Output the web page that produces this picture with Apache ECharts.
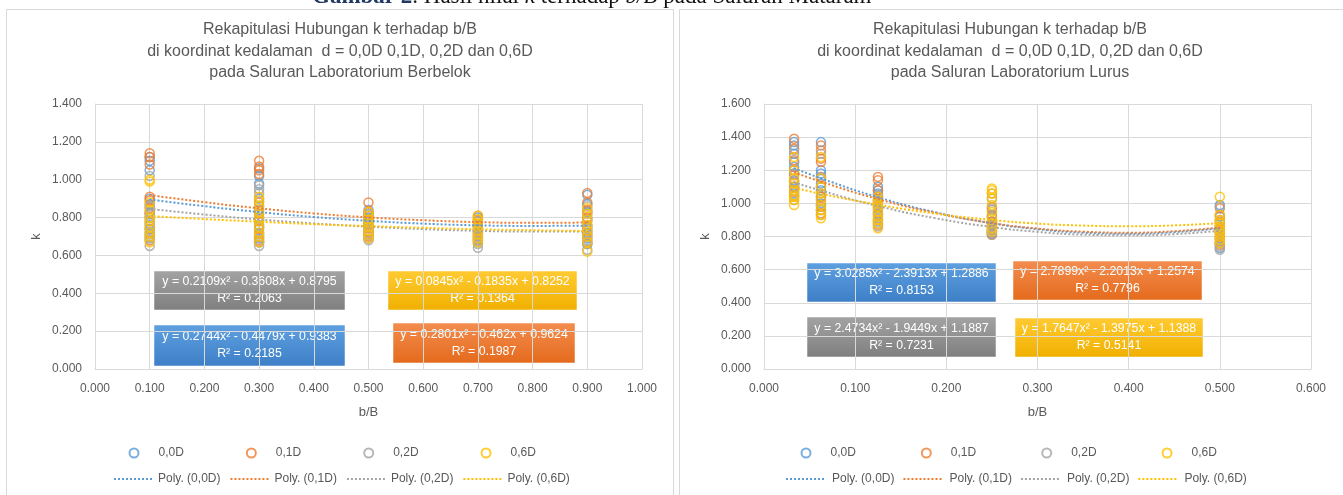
<!DOCTYPE html>
<html>
<head>
<meta charset="utf-8">
<script src="https://cdn.jsdelivr.net/npm/echarts@6/dist/echarts.min.js"></script>
<style>
html,body{margin:0;padding:0;background:#fff;}
#chart{width:1343px;height:495px;}
</style>
</head>
<body>
<div id="chart"></div>
<script>
// ---- Saluran Laboratorium Berbelok (kiri) ----
const bbX = [0.1, 0.3, 0.5, 0.7, 0.9];
const bbK00 = [
  [1.12, 1.10, 1.05, 0.90, 0.87, 0.83, 0.80, 0.76, 0.72, 0.70],
  [1.06, 1.02, 0.98, 0.90, 0.84, 0.80, 0.76, 0.72, 0.69, 0.67],
  [0.84, 0.82, 0.80, 0.78, 0.77, 0.75, 0.73, 0.71],
  [0.80, 0.78, 0.76, 0.75, 0.73, 0.71, 0.69, 0.67],
  [0.92, 0.87, 0.83, 0.79, 0.75, 0.72, 0.69, 0.66]
];
const bbK01 = [
  [1.14, 1.12, 1.08, 0.91, 0.89, 0.85, 0.82, 0.78, 0.74, 0.68],
  [1.10, 1.07, 1.05, 1.03, 0.88, 0.82, 0.78, 0.74, 0.70, 0.68],
  [0.88, 0.83, 0.81, 0.79, 0.77, 0.75, 0.72, 0.70],
  [0.81, 0.79, 0.78, 0.76, 0.74, 0.72, 0.70, 0.68],
  [0.93, 0.88, 0.84, 0.80, 0.76, 0.73, 0.70, 0.67]
];
const bbK02 = [
  [1.02, 0.86, 0.82, 0.80, 0.77, 0.74, 0.71, 0.69, 0.65],
  [0.97, 0.95, 0.93, 0.86, 0.79, 0.75, 0.71, 0.67, 0.65],
  [0.82, 0.79, 0.77, 0.75, 0.73, 0.71, 0.69, 0.68],
  [0.78, 0.76, 0.74, 0.72, 0.70, 0.68, 0.66, 0.64],
  [0.86, 0.82, 0.78, 0.74, 0.71, 0.68, 0.66, 0.63]
];
const bbK06 = [
  [1.00, 0.99, 0.88, 0.84, 0.80, 0.78, 0.75, 0.72, 0.70, 0.67],
  [0.91, 0.89, 0.86, 0.83, 0.80, 0.78, 0.75, 0.72, 0.70, 0.67],
  [0.83, 0.81, 0.79, 0.77, 0.75, 0.73, 0.71, 0.69],
  [0.81, 0.79, 0.77, 0.75, 0.73, 0.71, 0.69, 0.67],
  [0.85, 0.82, 0.79, 0.76, 0.73, 0.70, 0.67, 0.62]
];
const bbTrendX = [0.1, 0.2, 0.3, 0.4, 0.5, 0.6, 0.7, 0.8, 0.9];
const bbTrend00 = [0.896, 0.860, 0.829, 0.803, 0.783, 0.768, 0.759, 0.756, 0.757];
const bbTrend01 = [0.919, 0.881, 0.849, 0.822, 0.801, 0.786, 0.776, 0.772, 0.774];
const bbTrend02 = [0.846, 0.816, 0.790, 0.769, 0.752, 0.739, 0.730, 0.726, 0.726];
const bbTrend06 = [0.808, 0.792, 0.778, 0.765, 0.755, 0.746, 0.738, 0.733, 0.729];
const bbEq = ['y = 0.2744x² - 0.4479x + 0.9383', 'y = 0.2801x² - 0.462x + 0.9624',
              'y = 0.2109x² - 0.3608x + 0.8795', 'y = 0.0845x² - 0.1835x + 0.8252'];
const bbR2 = ['R² = 0.2185', 'R² = 0.1987', 'R² = 0.2063', 'R² = 0.1364'];

// ---- Saluran Laboratorium Lurus (kanan) ----
const lrX = [0.033, 0.0625, 0.125, 0.25, 0.5];
const lrK00 = [
  [1.37, 1.35, 1.30, 1.25, 1.22, 1.18, 1.14, 1.10, 1.06],
  [1.37, 1.20, 1.18, 1.15, 1.12, 1.08, 1.04, 1.00, 0.96],
  [1.10, 1.08, 1.06, 1.04, 1.02, 1.00, 0.97, 0.93, 0.89],
  [1.03, 0.96, 0.92, 0.89, 0.87, 0.85, 0.83, 0.82],
  [0.99, 0.92, 0.88, 0.85, 0.82, 0.79, 0.76, 0.73]
];
const lrK01 = [
  [1.39, 1.33, 1.26, 1.20, 1.17, 1.13, 1.10, 1.07, 1.04],
  [1.35, 1.32, 1.27, 1.25, 1.16, 1.10, 1.04, 0.98, 0.94],
  [1.16, 1.14, 1.08, 1.04, 1.01, 0.98, 0.94, 0.90, 0.87],
  [1.06, 0.97, 0.93, 0.89, 0.86, 0.84, 0.82, 0.81],
  [0.97, 0.93, 0.89, 0.86, 0.83, 0.80, 0.77, 0.75]
];
const lrK02 = [
  [1.32, 1.25, 1.18, 1.13, 1.10, 1.08, 1.05, 1.02],
  [1.30, 1.16, 1.10, 1.06, 1.02, 0.99, 0.96, 0.93],
  [1.05, 1.02, 0.99, 0.96, 0.94, 0.91, 0.88, 0.86],
  [0.98, 0.92, 0.88, 0.86, 0.84, 0.83, 0.82, 0.81],
  [0.98, 0.90, 0.86, 0.82, 0.79, 0.76, 0.74, 0.72]
];
const lrK06 = [
  [1.28, 1.20, 1.15, 1.12, 1.08, 1.05, 1.04, 1.02, 0.99],
  [1.28, 1.15, 1.10, 1.06, 1.02, 0.99, 0.96, 0.93, 0.91],
  [1.04, 1.02, 1.00, 0.98, 0.95, 0.92, 0.90, 0.88, 0.85],
  [1.09, 1.08, 1.06, 1.03, 0.99, 0.95, 0.91, 0.88, 0.85, 0.83],
  [1.04, 0.93, 0.90, 0.88, 0.86, 0.84, 0.82, 0.80, 0.78, 0.76]
];
const lrTrendX = [0.033, 0.0625, 0.125, 0.1875, 0.25, 0.3, 0.35, 0.4, 0.45, 0.5];
const lrTrend00 = [1.213, 1.151, 1.037, 0.947, 0.880, 0.844, 0.823, 0.817, 0.826, 0.850];
const lrTrend01 = [1.188, 1.131, 1.026, 0.943, 0.881, 0.848, 0.829, 0.823, 0.832, 0.854];
const lrTrend02 = [1.127, 1.077, 0.984, 0.911, 0.857, 0.828, 0.811, 0.807, 0.814, 0.835];
const lrTrend06 = [1.095, 1.058, 0.992, 0.939, 0.900, 0.878, 0.866, 0.862, 0.867, 0.881];
const lrEq = ['y = 3.0285x² - 2.3913x + 1.2886', 'y = 2.7899x² - 2.2013x + 1.2574',
              'y = 2.4734x² - 1.9449x + 1.1887', 'y = 1.7647x² - 1.3975x + 1.1388'];
const lrR2 = ['R² = 0.8153', 'R² = 0.7796', 'R² = 0.7231', 'R² = 0.5141'];

const names = ['0,0D', '0,1D', '0,2D', '0,6D'];
const polyNames = ['Poly. (0,0D)', 'Poly. (0,1D)', 'Poly. (0,2D)', 'Poly. (0,6D)'];
const colors = ['#5b9bd5', '#ed7d31', '#a5a5a5', '#ffc000'];
const boxFill = [['#5fa0e0', '#3d7fc7'], ['#f38d4f', '#e46a1c'], ['#a3a3a3', '#7f7f7f'], ['#ffcb33', '#f0b000']];
const FONT = 'Liberation Sans';
const TXT = '#595959';

var myChart = echarts.init(document.getElementById('chart'));

function pts(xs, cols) {
  const out = [];
  xs.forEach((x, i) => cols[i].forEach(v => out.push([x, v])));
  return out;
}
function pairs(xs, ys) {
  return xs.map((x, i) => [x, ys[i]]);
}

function makeSeries(gi, xs, ks, tx, trends) {
  const s = [];
  ks.forEach((k, i) => {
    s.push({
      name: names[i], type: 'scatter', xAxisIndex: gi, yAxisIndex: gi,
      symbol: 'circle', symbolSize: 9, z: 2,
      itemStyle: { color: 'rgba(255,255,255,0)', borderColor: colors[i], borderWidth: 1.5 },
      data: pts(xs, k)
    });
  });
  trends.forEach((t, i) => {
    s.push({
      name: polyNames[i], type: 'line', xAxisIndex: gi, yAxisIndex: gi,
      smooth: true, symbol: 'none', z: 3,
      lineStyle: { color: colors[i], width: 2, type: [2, 2] },
      itemStyle: { color: colors[i] },
      data: pairs(tx, t)
    });
  });
  return s;
}

function xAxis(gi, max) {
  return {
    type: 'value', gridIndex: gi, min: 0, max: max, interval: 0.1,
    name: 'b/B', nameLocation: 'middle', nameGap: 37,
    nameTextStyle: { color: TXT, fontSize: 13, fontFamily: FONT },
    axisLine: { show: true, lineStyle: { color: '#d9d9d9' } },
    axisTick: { show: false },
    axisLabel: { color: TXT, fontSize: 12, fontFamily: FONT, margin: 14, formatter: v => v.toFixed(3) },
    splitLine: { show: true, lineStyle: { color: '#d9d9d9' } }
  };
}
function yAxis(gi, max) {
  return {
    type: 'value', gridIndex: gi, min: 0, max: max, interval: 0.2,
    name: 'k', nameLocation: 'middle', nameRotate: 90, nameGap: 52,
    nameTextStyle: { color: TXT, fontSize: 13, fontFamily: FONT },
    axisLine: { show: true, lineStyle: { color: '#d9d9d9' } },
    axisTick: { show: false },
    axisLabel: { color: TXT, fontSize: 12, fontFamily: FONT, margin: 13, formatter: v => v.toFixed(3) },
    splitLine: { show: true, lineStyle: { color: '#d9d9d9' } }
  };
}

function eqBox(x, y, w, h, idx, eq, r2) {
  return {
    type: 'group', x: x, y: y, z: 50,
    children: [
      { type: 'rect', shape: { x: 0, y: 0, width: w, height: h },
        style: { fill: new echarts.graphic.LinearGradient(0, 0, 0, 1, [
          { offset: 0, color: boxFill[idx][0] }, { offset: 1, color: boxFill[idx][1] }]),
          stroke: 'rgba(255,255,255,0.5)', lineWidth: 1 } },
      { type: 'text', x: w / 2, y: h / 2,
        style: { text: eq + '\n' + r2, fill: '#fff', font: '12.3px "' + FONT + '"',
          align: 'center', verticalAlign: 'middle', lineHeight: 17 } }
    ]
  };
}

const legendText = { color: TXT, fontSize: 12, fontFamily: FONT };
const hideSym = { color: 'rgba(0,0,0,0)', borderColor: 'rgba(0,0,0,0)', borderWidth: 0 };

var option = {
  animation: false,
  title: [
    { text: 'Rekapitulasi Hubungan k terhadap b/B\ndi koordinat kedalaman  d = 0,0D 0,1D, 0,2D dan 0,6D\npada Saluran Laboratorium Berbelok',
      left: 340, top: 19, textAlign: 'center', padding: 0,
      textStyle: { color: TXT, fontSize: 16, fontWeight: 'normal', fontFamily: FONT, lineHeight: 21.5 } },
    { text: 'Rekapitulasi Hubungan k terhadap b/B\ndi koordinat kedalaman  d = 0,0D 0,1D, 0,2D dan 0,6D\npada Saluran Laboratorium Lurus',
      left: 1010, top: 19, textAlign: 'center', padding: 0,
      textStyle: { color: TXT, fontSize: 16, fontWeight: 'normal', fontFamily: FONT, lineHeight: 21.5 } }
  ],
  grid: [
    { left: 95, top: 104, width: 547, height: 265 },
    { left: 764, top: 104, width: 547, height: 265 }
  ],
  xAxis: [xAxis(0, 1), xAxis(1, 0.6)],
  yAxis: [yAxis(0, 1.4), yAxis(1, 1.6)],
  legend: [
    { data: names, left: 128.5, top: 447, padding: 0, itemWidth: 9, itemHeight: 9, itemGap: 62,
      textStyle: Object.assign({ padding: [0, 0, 0, 15] }, legendText) },
    { data: polyNames, left: 113, top: 473, padding: 0, itemWidth: 38, itemHeight: 10, itemGap: 9,
      itemStyle: hideSym, textStyle: Object.assign({ padding: [0, 0, 0, 1] }, legendText) },
    { data: names, left: 800.5, top: 447, padding: 0, itemWidth: 9, itemHeight: 9, itemGap: 65,
      textStyle: Object.assign({ padding: [0, 0, 0, 15] }, legendText) },
    { data: polyNames, left: 785, top: 473, padding: 0, itemWidth: 40, itemHeight: 10, itemGap: 8,
      itemStyle: hideSym, textStyle: Object.assign({ padding: [0, 0, 0, 1] }, legendText) }
  ],
  graphic: [
    { type: 'rect', shape: { x: 6.5, y: 9.5, width: 667, height: 500 }, z: -10,
      style: { fill: '#fff', stroke: '#d9d9d9', lineWidth: 1 } },
    { type: 'rect', shape: { x: 679.5, y: 9.5, width: 700, height: 500 }, z: -10,
      style: { fill: '#fff', stroke: '#d9d9d9', lineWidth: 1 } },
    { type: 'text', x: 312, y: -3, z: 60,
      style: { text: '{a|Gambar 2}{b|. Hasil nilai }{i|k}{b| terhadap }{i|b/B}{b| pada Saluran Mataram}',
        verticalAlign: 'middle',
        rich: {
          a: { fontFamily: 'Liberation Serif', fontSize: 23, fontWeight: 'bold', fill: '#1f3864' },
          b: { fontFamily: 'Liberation Serif', fontSize: 23, fill: '#111' },
          i: { fontFamily: 'Liberation Serif', fontSize: 23, fontStyle: 'italic', fill: '#111' }
        } } },
    eqBox(154, 325, 191, 41, 0, bbEq[0], bbR2[0]),
    eqBox(393, 323, 182, 40, 1, bbEq[1], bbR2[1]),
    eqBox(154, 271, 191, 39, 2, bbEq[2], bbR2[2]),
    eqBox(388, 271, 189, 39, 3, bbEq[3], bbR2[3]),
    eqBox(807, 263, 189, 39, 0, lrEq[0], lrR2[0]),
    eqBox(1013, 261, 189, 39, 1, lrEq[1], lrR2[1]),
    eqBox(807, 317, 189, 40, 2, lrEq[2], lrR2[2]),
    eqBox(1015, 318, 188, 39, 3, lrEq[3], lrR2[3])
  ],
  series: [].concat(
    makeSeries(0, bbX, [bbK00, bbK01, bbK02, bbK06], bbTrendX, [bbTrend00, bbTrend01, bbTrend02, bbTrend06]),
    makeSeries(1, lrX, [lrK00, lrK01, lrK02, lrK06], lrTrendX, [lrTrend00, lrTrend01, lrTrend02, lrTrend06])
  )
};
myChart.setOption(option);
</script>
</body>
</html>
